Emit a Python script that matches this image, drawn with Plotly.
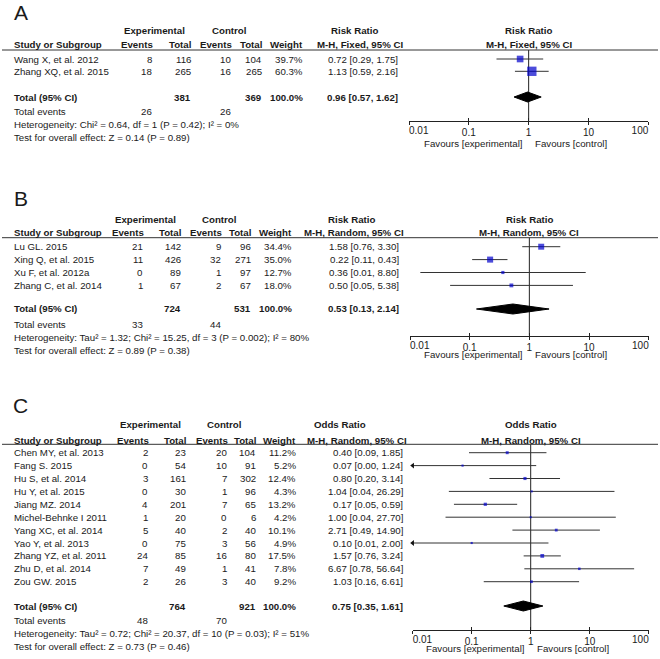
import plotly.graph_objects as go

W, H = 660, 659
FONT = "Liberation Sans, Arial, sans-serif"
TC = "#1a1a1a"

# ---------------- Panel A data ----------------
a_studies = ["Wang X, et al. 2012", "Zhang XQ, et al. 2015"]
a_exp_events = [8, 18]
a_exp_total = [116, 265]
a_ctl_events = [10, 16]
a_ctl_total = [104, 265]
a_weight = [39.7, 60.3]
a_est = [0.72, 1.13]
a_lo = [0.29, 0.59]
a_hi = [1.75, 2.16]
a_totals = [381, 369]          # exp total, ctl total
a_pooled = [0.96, 0.57, 1.62]  # est, lo, hi
a_tot_events = [26, 26]
a_het = "Heterogeneity: Chi² = 0.64, df = 1 (P = 0.42); I² = 0%"
a_test = "Test for overall effect: Z = 0.14 (P = 0.89)"

# ---------------- Panel B data ----------------
b_studies = ["Lu GL. 2015", "Xing Q, et al. 2015", "Xu F, et al. 2012a", "Zhang C, et al. 2014"]
b_exp_events = [21, 11, 0, 1]
b_exp_total = [142, 426, 89, 67]
b_ctl_events = [9, 32, 1, 2]
b_ctl_total = [96, 271, 97, 67]
b_weight = [34.4, 35.0, 12.7, 18.0]
b_est = [1.58, 0.22, 0.36, 0.50]
b_lo = [0.76, 0.11, 0.0149, 0.047]
b_hi = [3.30, 0.43, 8.80, 5.38]
b_totals = [724, 531]
b_pooled = [0.53, 0.13, 2.14]
b_tot_events = [33, 44]
b_het = "Heterogeneity: Tau² = 1.32; Chi² = 15.25, df = 3 (P = 0.002); I² = 80%"
b_test = "Test for overall effect: Z = 0.89 (P = 0.38)"

# ---------------- Panel C data ----------------
c_studies = ["Chen MY, et al. 2013", "Fang S. 2015", "Hu S, et al. 2014", "Hu Y, et al. 2015",
             "Jiang MZ. 2014", "Michel-Behnke I 2011", "Yang XC, et al. 2014", "Yao Y, et al. 2013",
             "Zhang YZ, et al. 2011", "Zhu D, et al. 2014", "Zou GW. 2015"]
c_exp_events = [2, 0, 3, 0, 4, 1, 5, 0, 24, 7, 2]
c_exp_total = [23, 54, 161, 30, 201, 20, 40, 75, 85, 49, 26]
c_ctl_events = [20, 10, 7, 1, 7, 0, 2, 3, 16, 1, 3]
c_ctl_total = [104, 91, 302, 96, 65, 6, 40, 56, 80, 41, 40]
c_weight = [11.2, 5.2, 12.4, 4.3, 13.2, 4.2, 10.1, 4.9, 17.5, 7.8, 9.2]
c_est = [0.40, 0.07, 0.80, 1.04, 0.17, 1.00, 2.71, 0.10, 1.57, 6.67, 1.03]
c_lo = [0.09, 0.004, 0.20, 0.041, 0.05, 0.036, 0.49, 0.006, 0.76, 0.78, 0.16]
c_hi = [1.85, 1.24, 3.14, 26.29, 0.59, 27.70, 14.90, 2.00, 3.24, 56.64, 6.61]
c_totals = [764, 921]
c_pooled = [0.75, 0.35, 1.61]
c_tot_events = [48, 70]
c_het = "Heterogeneity: Tau² = 0.72; Chi² = 20.37, df = 10 (P = 0.03); I² = 51%"
c_test = "Test for overall effect: Z = 0.73 (P = 0.46)"

total_weight_label = "100.0%"
tick_vals = [0.01, 0.1, 1, 10, 100]
tick_text = ["0.01", "0.1", "1", "10", "100"]

# ---------------- layout (pixel positions) ----------------
panels = [
    dict(letter="A", letter_y=13, h1=31, h2=44, line=50, row0=59, step=12.3, total=97, tev=111,
         het=124, test=137, axis=121, fav=143, ev=155, tot=193, cev=234, ctot=264, w=305, ci=400,
         exp_c=154.5, ctl_c=229, rr_c=354, mh_r=405, fx0=409, fx1=648.3,
         measure="Risk Ratio", method="M-H, Fixed, 95% CI",
         studies=a_studies, ee=a_exp_events, et=a_exp_total, ce=a_ctl_events, ct=a_ctl_total,
         wt=a_weight, est=a_est, lo=a_lo, hi=a_hi, totals=a_totals, pooled=a_pooled,
         tev_vals=a_tot_events, het_txt=a_het, test_txt=a_test),
    dict(letter="B", letter_y=198.5, h1=219, h2=232, line=237.7, row0=246.7, step=12.9, total=309,
         tev=324, het=337, test=350, axis=335.7, fav=354.7, ev=146, tot=183, cev=224, ctot=253,
         w=294, ci=401, exp_c=145, ctl_c=218.5, rr_c=351, mh_r=406, fx0=410, fx1=648.7,
         measure="Risk Ratio", method="M-H, Random, 95% CI",
         studies=b_studies, ee=b_exp_events, et=b_exp_total, ce=b_ctl_events, ct=b_ctl_total,
         wt=b_weight, est=b_est, lo=b_lo, hi=b_hi, totals=b_totals, pooled=b_pooled,
         tev_vals=b_tot_events, het_txt=b_het, test_txt=b_test),
    dict(letter="C", letter_y=405, h1=425, h2=440, line=444.3, row0=452.7, step=12.9, total=606,
         tev=620.7, het=633.3, test=646.7, axis=630, fav=648.3, ev=151, tot=188, cev=230, ctot=258,
         w=298, ci=405, exp_c=150, ctl_c=223.7, rr_c=340, mh_r=409, fx0=412.7, fx1=648.7,
         measure="Odds Ratio", method="M-H, Random, 95% CI",
         studies=c_studies, ee=c_exp_events, et=c_exp_total, ce=c_ctl_events, ct=c_ctl_total,
         wt=c_weight, est=c_est, lo=c_lo, hi=c_hi, totals=c_totals, pooled=c_pooled,
         tev_vals=c_tot_events, het_txt=c_het, test_txt=c_test),
]

fig = go.Figure()
annotations = []
shapes = []


def py2p(py):
    return 1 - py / H


def txt(px, py, s, anchor="left", bold=False, size=9.7):
    annotations.append(dict(
        x=px / W, y=py2p(py), xref="paper", yref="paper",
        text=f"<b>{s}</b>" if bold else s,
        xanchor=anchor, yanchor="middle", showarrow=False,
        font=dict(size=size, color=TC, family=FONT)))


def fmt_ci(e, l, h):
    return f"{e:.2f} [{l:.2f}, {h:.2f}]"


XR = [-2.0, 2.0]
layout_axes = {}
n_ax = 3
for k, p in enumerate(panels):
    sfx = "" if k == 0 else str(k + 1)
    xname, yname = "x" + sfx, "y" + sfx

    # text: headers
    txt(21, p["letter_y"], p["letter"], "center", size=21)
    txt(p["exp_c"], p["h1"], "Experimental", "center", True)
    txt(p["ctl_c"], p["h1"], "Control", "center", True)
    txt(p["rr_c"], p["h1"], p["measure"], "center", True)
    txt(12, p["h2"], "Study or Subgroup", "left", True)
    txt(p["ev"], p["h2"], "Events", "right", True)
    txt(p["tot"], p["h2"], "Total", "right", True)
    txt(p["cev"], p["h2"], "Events", "right", True)
    txt(p["ctot"], p["h2"], "Total", "right", True)
    txt(p["w"], p["h2"], "Weight", "right", True)
    txt(p["mh_r"], p["h2"], p["method"], "right", True)
    for yy, s in ((p["h1"], p["measure"]), (p["h2"], p["method"])):
        annotations.append(dict(x=0, y=py2p(yy), xref=xname, yref="paper", text=f"<b>{s}</b>",
                                xanchor="center", yanchor="middle", showarrow=False,
                                font=dict(size=9.7, color=TC, family=FONT)))
    shapes.append(dict(type="line", xref="paper", yref="paper", x0=2 / W, x1=658 / W,
                       y0=py2p(p["line"]), y1=py2p(p["line"]), line=dict(color="#333", width=1)))

    rows = [p["row0"] + i * p["step"] for i in range(len(p["studies"]))]
    for i, y in enumerate(rows):
        txt(12, y, p["studies"][i])
        txt(p["ev"] - 1, y, str(p["ee"][i]), "right")
        txt(p["tot"], y, str(p["et"][i]), "right")
        txt(p["cev"] - 1, y, str(p["ce"][i]), "right")
        txt(p["ctot"], y, str(p["ct"][i]), "right")
        txt(p["w"], y, f"{p['wt'][i]:.1f}%", "right")
        txt(p["ci"], y, fmt_ci(p["est"][i], p["lo"][i], p["hi"][i]), "right")

    # totals
    txt(12, p["total"], "Total (95% CI)", "left", True)
    txt(p["tot"], p["total"], str(p["totals"][0]), "right", True)
    txt(p["ctot"], p["total"], str(p["totals"][1]), "right", True)
    txt(p["w"], p["total"], total_weight_label, "right", True)
    txt(p["ci"], p["total"], fmt_ci(*p["pooled"]), "right", True)
    txt(12, p["tev"], "Total events")
    txt(p["ev"] - 1, p["tev"], str(p["tev_vals"][0]), "right")
    txt(p["cev"] - 1, p["tev"], str(p["tev_vals"][1]), "right")
    txt(12, p["het"], p["het_txt"])
    txt(12, p["test"], p["test_txt"])

    # favours labels
    annotations.append(dict(x=0, y=py2p(p["fav"]), xref=xname, yref="paper",
                            text="Favours [experimental]", xanchor="right", yanchor="middle",
                            xshift=-4, showarrow=False, font=dict(size=9.7, color=TC, family=FONT)))
    annotations.append(dict(x=0, y=py2p(p["fav"]), xref=xname, yref="paper",
                            text="Favours [control]", xanchor="left", yanchor="middle",
                            xshift=4, showarrow=False, font=dict(size=9.7, color=TC, family=FONT)))

    # vertical line of no effect
    fig.add_trace(go.Scatter(x=[1, 1], y=[p["line"], p["axis"]], mode="lines",
                             line=dict(color="#222", width=1), xaxis=xname, yaxis=yname,
                             hoverinfo="skip", cliponaxis=False))

    # CI lines
    lx, ly, ax, ay = [], [], [], []
    for i, y in enumerate(rows):
        lo = max(p["lo"][i], 0.01)
        hi = min(p["hi"][i], 100)
        lx += [lo, hi, None]
        ly += [y, y, None]
        if p["lo"][i] < 0.01:
            ax.append(0.01)
            ay.append(y)
    fig.add_trace(go.Scatter(x=lx, y=ly, mode="lines", line=dict(color="#333", width=1),
                             xaxis=xname, yaxis=yname, hoverinfo="skip", cliponaxis=False))
    if ax:
        fig.add_trace(go.Scatter(x=ax, y=ay, mode="markers",
                                 marker=dict(symbol="triangle-left", size=5, color="#111"),
                                 xaxis=xname, yaxis=yname, hoverinfo="skip", cliponaxis=False))
    # squares
    fig.add_trace(go.Scatter(x=p["est"], y=rows, mode="markers",
                             marker=dict(symbol="square", size=[1.5 + 0.13 * w for w in p["wt"]],
                                         color="#0000CC", line=dict(width=0)),
                             xaxis=xname, yaxis=yname, hoverinfo="skip", cliponaxis=False))
    # diamond
    pe, pl, ph = p["pooled"]
    ty = p["total"]
    fig.add_trace(go.Scatter(x=[pl, pe, ph, pe, pl], y=[ty, ty - 5, ty, ty + 5, ty],
                             mode="lines", fill="toself", fillcolor="black",
                             line=dict(color="black", width=1), xaxis=xname, yaxis=yname,
                             hoverinfo="skip"))

    # main axis: ticks below, middle labels
    layout_axes["xaxis" + sfx] = dict(
        type="log", range=XR, domain=[p["fx0"] / W, p["fx1"] / W],
        anchor=yname, automargin=False,
        showline=True, linecolor="#222", linewidth=1,
        ticks="outside", ticklen=3, tickcolor="#222", tickwidth=1,
        tickvals=tick_vals, ticktext=["", tick_text[1], tick_text[2], tick_text[3], ""],
        ticklabelstandoff=-1,
        tickfont=dict(size=10, color=TC, family=FONT),
        showgrid=False, zeroline=False, fixedrange=True)
    # overlay axes: upward ticks; end labels aligned inside the scale
    overlays = [
        dict(ticks="inside", ticklen=3, tickvals=tick_vals, showticklabels=False),
        dict(ticks="", tickvals=tick_vals[:1], ticktext=tick_text[:1],
             ticklabelposition="outside right", ticklabelstandoff=2),
        dict(ticks="", tickvals=tick_vals[-1:], ticktext=tick_text[-1:],
             ticklabelposition="outside left", ticklabelstandoff=2),
    ]
    for ov in overlays:
        n_ax += 1
        oname = f"x{n_ax}"
        fig.add_trace(go.Scatter(x=[1], y=[p["axis"]], mode="markers", marker=dict(opacity=0),
                                 xaxis=oname, yaxis=yname, hoverinfo="skip"))
        layout_axes[f"xaxis{n_ax}"] = dict(
            type="log", range=XR, overlaying=xname, anchor=yname, automargin=False,
            showline=False, tickcolor="#222", tickwidth=1,
            tickfont=dict(size=10, color=TC, family=FONT),
            showgrid=False, zeroline=False, fixedrange=True, **ov)
    layout_axes["yaxis" + sfx] = dict(
        range=[p["axis"], 0], domain=[1 - p["axis"] / H, 1], anchor=xname,
        visible=False, automargin=False, fixedrange=True)

fig.update_layout(
    width=W, height=H, margin=dict(l=0, r=0, t=0, b=0, pad=0, autoexpand=False),
    paper_bgcolor="white", plot_bgcolor="rgba(0,0,0,0)", showlegend=False,
    annotations=annotations, shapes=shapes,
    **layout_axes)

fig.write_html("out.html", config={"displayModeBar": False, "staticPlot": True},
               post_script="document.body.style.margin='0';document.body.style.overflow='hidden';")
